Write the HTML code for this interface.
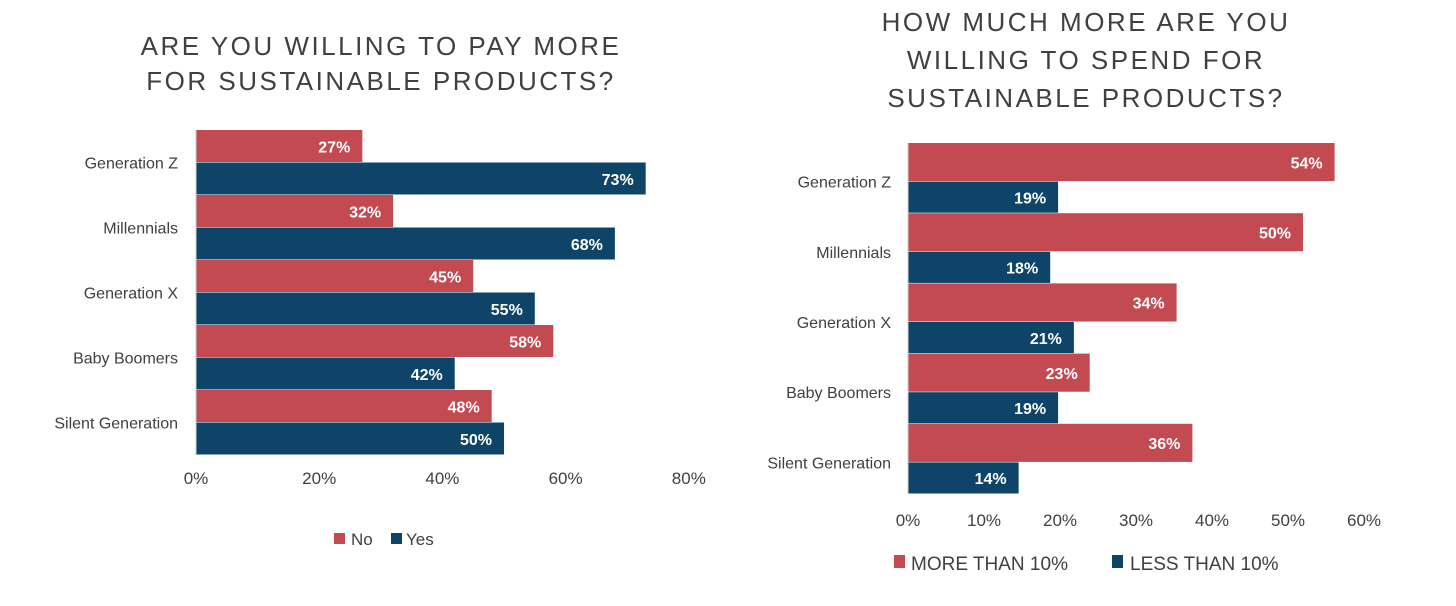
<!DOCTYPE html>
<html><head><meta charset="utf-8"><style>
html,body{margin:0;padding:0;background:#fff;}
svg{display:block;font-family:"Liberation Sans",sans-serif;}
</style></head><body>
<svg width="1456" height="606" viewBox="0 0 1456 606">
<g id="left">
<text x="381" y="55" text-anchor="middle" font-size="26" letter-spacing="2.5" fill="#404040">ARE YOU WILLING TO PAY MORE</text>
<text x="381" y="90" text-anchor="middle" font-size="26" letter-spacing="2.5" fill="#404040">FOR SUSTAINABLE PRODUCTS?</text>
<g id="lbars"></g>
<line x1="196" y1="130" x2="196" y2="455" stroke="#d0d0d0"/>
<rect x="334" y="533" width="11" height="11" fill="#c44a52"/>
<text x="351" y="545" font-size="17" fill="#404040">No</text>
<rect x="391" y="533" width="11" height="11" fill="#0d4468"/>
<text x="406" y="545" font-size="17" fill="#404040">Yes</text>
</g>
<g id="right">
<text x="1086" y="31" text-anchor="middle" font-size="26" letter-spacing="2.5" fill="#404040">HOW MUCH MORE ARE YOU</text>
<text x="1086" y="69" text-anchor="middle" font-size="26" letter-spacing="2.5" fill="#404040">WILLING TO SPEND FOR</text>
<text x="1086" y="107" text-anchor="middle" font-size="26" letter-spacing="2.5" fill="#404040">SUSTAINABLE PRODUCTS?</text>
<g id="rbars"></g>
<line x1="908" y1="143" x2="908" y2="494" stroke="#d0d0d0"/>
<rect x="894" y="555" width="11" height="13" fill="#c44a52"/>
<text x="911" y="570" font-size="19" fill="#404040">MORE THAN 10%</text>
<rect x="1112" y="555" width="11" height="13" fill="#0d4468"/>
<text x="1130" y="570" font-size="19" fill="#404040">LESS THAN 10%</text>
</g>
</svg>
<script>
const categories=["Generation Z","Millennials","Generation X","Baby Boomers","Silent Generation"];
const noValues=[27,32,45,58,48];
const yesValues=[73,68,55,42,50];
const leftTicks=[0,20,40,60,80];
const moreValues=[54,50,34,23,36];
const lessValues=[19,18,21,19,14];
const rightTicks=[0,10,20,30,40,50,60];
const NS="http://www.w3.org/2000/svg";
function mk(tag,attrs,parent){const e=document.createElementNS(NS,tag);for(const k in attrs)e.setAttribute(k,attrs[k]);parent.appendChild(e);return e;}
function chart(g,x0,scale,tickScale,top,band,split,s1,s2,ticks,tickY,labelX,n1,n2){
  categories.forEach((c,i)=>{
    const y=top+i*band,h1=band*split,h2=band-h1;
    const r1=mk('rect',{x:x0,y:y,width:s1[i]*scale,height:h1-0.5,fill:'#c44a52'},g);
    
    
    const r2=mk('rect',{x:x0,y:y+h1,width:s2[i]*scale,height:h2-0.5,fill:'#0d4468'},g);
    
    
    [[s1,y,h1,n1],[s2,y+h1,h2,n2]].forEach(([s,yy,hh,n])=>{
      const t=mk('text',{x:x0+s[i]*scale-12,y:yy+hh/2+6,'text-anchor':'end','font-size':16,'font-weight':'bold',fill:'#fff'},g);
      t.textContent=s[i]+'%';
      
      
    });
    const l=mk('text',{x:labelX,y:y+h1+6,'text-anchor':'end','font-size':16,fill:'#404040'},g);
    l.textContent=c;
    
    
  });
  ticks.forEach(v=>{
    const t=mk('text',{x:x0+v*tickScale,y:tickY,'text-anchor':'middle','font-size':17,fill:'#404040'},g);
    t.textContent=v+'%';
    
    
  });
}
chart(document.getElementById('lbars'),196,6.16,6.16,130,65,0.5,noValues,yesValues,leftTicks,484,178,'no','yes');
chart(document.getElementById('rbars'),908,7.9,7.6,143,70.2,0.55,moreValues,lessValues,rightTicks,526,891,'more-than-10','less-than-10');
</script>
</body></html>
